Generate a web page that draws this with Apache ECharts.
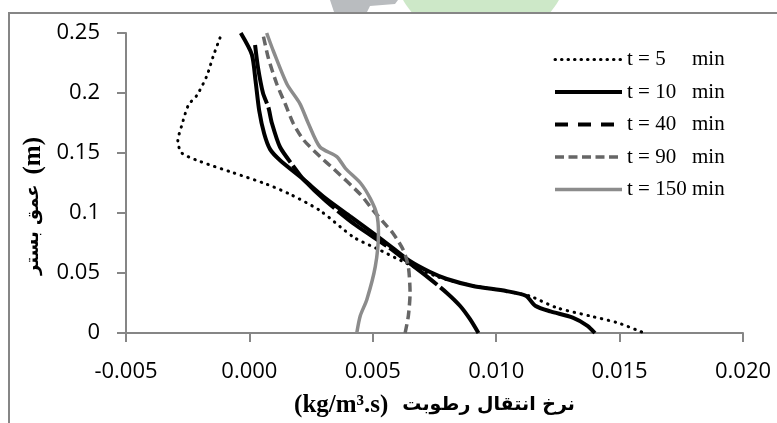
<!DOCTYPE html>
<html>
<head>
<meta charset="utf-8">
<script src="https://cdn.jsdelivr.net/npm/echarts@6/dist/echarts.min.js"></script>
<style>
  html, body { margin: 0; padding: 0; background: #fff; }
  #chart { width: 777px; height: 423px; }
</style>
</head>
<body>
<div id="chart"></div>
<script>
// [rate (kg/m3.s), depth (m)]
const t5 = [
  [-0.00119, 0.246], [-0.00146, 0.231], [-0.00173, 0.214], [-0.00213, 0.198],
  [-0.00247, 0.190], [-0.00274, 0.173], [-0.00290, 0.160], [-0.00274, 0.150],
  [-0.00200, 0.143], [-0.00065, 0.1335], [0.00070, 0.124], [0.00165, 0.1156],
  [0.00286, 0.102], [0.00421, 0.080], [0.00516, 0.0704], [0.00638, 0.058],
  [0.00759, 0.0471], [0.00854, 0.0416], [0.00960, 0.0375], [0.01050, 0.0345],
  [0.01137, 0.0307], [0.01246, 0.021], [0.01380, 0.0142], [0.01489, 0.0087],
  [0.01577, 0.0019], [0.01600, 0]
];
const t10 = [
  [-0.00035, 0.25], [0.00010, 0.232], [0.00025, 0.21], [0.00040, 0.185],
  [0.00060, 0.166], [0.00084, 0.153], [0.00124, 0.144], [0.00219, 0.128],
  [0.00310, 0.112], [0.00410, 0.097], [0.00490, 0.085], [0.00580, 0.071],
  [0.00650, 0.060], [0.00730, 0.051], [0.00800, 0.045], [0.00910, 0.039],
  [0.01040, 0.035], [0.01120, 0.031], [0.01160, 0.0225], [0.01220, 0.018],
  [0.01310, 0.0128], [0.01370, 0.006], [0.01400, 0]
];
const t40 = [
  [0.00023, 0.24], [0.00035, 0.221], [0.00055, 0.20], [0.00077, 0.188],
  [0.00091, 0.175], [0.00124, 0.155], [0.00178, 0.139], [0.00219, 0.128],
  [0.00310, 0.110], [0.00430, 0.090], [0.00560, 0.072], [0.00650, 0.058],
  [0.00720, 0.047], [0.00800, 0.0334], [0.00854, 0.0225], [0.00894, 0.0115],
  [0.00928, 0]
];
const t90 = [
  [0.00057, 0.247], [0.00077, 0.229], [0.00111, 0.2075], [0.00145, 0.191],
  [0.00178, 0.1746], [0.00219, 0.161], [0.00286, 0.147], [0.00340, 0.137],
  [0.00449, 0.1156], [0.00502, 0.102], [0.00540, 0.093], [0.00583, 0.0827],
  [0.00624, 0.069], [0.00644, 0.0553], [0.00651, 0.0334], [0.00644, 0.0142],
  [0.00631, 0]
];
const t150 = [
  [0.00070, 0.25], [0.00097, 0.235], [0.00152, 0.2075], [0.00205, 0.191],
  [0.00239, 0.1746], [0.00286, 0.155], [0.00354, 0.147], [0.00390, 0.137],
  [0.00450, 0.125], [0.00490, 0.112], [0.00516, 0.099], [0.00523, 0.083],
  [0.00510, 0.0553], [0.00476, 0.028], [0.00449, 0.0142], [0.00435, 0]
];
const seriesNames = ["t = 5 min", "t = 10 min", "t = 40 min", "t = 90 min", "t = 150 min"];

const axisGrey = "#868686";
const chart = echarts.init(document.getElementById("chart"));

function lineSeries(name, data, lineStyle) {
  return {
    name: name,
    type: "line",
    data: data,
    symbol: "none",
    showSymbol: false,
    smooth: 0.25,
    lineStyle: lineStyle,
    itemStyle: { color: lineStyle.color },
    z: 3
  };
}

chart.setOption({
  animation: false,
  backgroundColor: "#fff",
  grid: { left: 126, right: 34, top: 33, bottom: 86 },
  graphic: [
    { type: "circle", shape: { cx: 481, cy: -45, r: 90 }, style: { fill: "#cde8c8" }, z: 0 },
    { type: "polygon", shape: { points: [[330, 0], [398, 0], [395, 4], [370, 6], [367, 12], [334, 12]] },
      style: { fill: "#b9bcbf" }, z: 0 },
    { type: "rect", shape: { x: 9, y: 13, width: 1000, height: 1000 },
      style: { fill: "#fff", stroke: axisGrey, lineWidth: 2 }, z: 0 }
  ],
  legend: {
    orient: "vertical",
    left: 548,
    top: 44,
    itemWidth: 67,
    itemHeight: 14,
    itemGap: 11.5,
    itemStyle: { opacity: 0 },
    data: [
      { name: seriesNames[0], lineStyle: { width: 3, type: [0.5, 6], cap: "round" } },
      { name: seriesNames[1], lineStyle: { width: 4 } },
      { name: seriesNames[2], lineStyle: { width: 4, type: [13, 10], cap: "butt" } },
      { name: seriesNames[3], lineStyle: { width: 3.5, type: [9, 4.5] } },
      { name: seriesNames[4], lineStyle: { width: 3.5 } }
    ],
    formatter: function (name) {
      const parts = name.split(" min");
      return "{a|" + parts[0] + " }{b|min}";
    },
    textStyle: {
      color: "#000",
      fontFamily: "Liberation Serif",
      fontSize: 21,
      rich: {
        a: { width: 65, fontFamily: "Liberation Serif", fontSize: 21, color: "#000", lineHeight: 24 },
        b: { fontFamily: "Liberation Serif", fontSize: 21, color: "#000", lineHeight: 24 }
      }
    }
  },
  xAxis: {
    type: "value",
    min: -0.005,
    max: 0.02,
    interval: 0.005,
    name: "{u|(kg/m³.s)}{g|}{a|نرخ انتقال رطوبت}",
    nameLocation: "middle",
    nameGap: 60,
    nameTextStyle: {
      rich: {
        u: { fontFamily: "Liberation Serif", fontWeight: "bold", fontSize: 25, color: "#000" },
        g: { width: 14 },
        a: { fontFamily: "DejaVu Sans", fontWeight: "bold", fontSize: 19, color: "#000" }
      }
    },
    axisLine: { show: true, onZero: false, lineStyle: { color: axisGrey, width: 2 } },
    axisTick: { show: true, length: 9, lineStyle: { color: axisGrey, width: 2 } },
    splitLine: { show: false },
    axisLabel: {
      color: "#000",
      fontFamily: "Open Sans",
      fontSize: 22,
      margin: 28,
      formatter: function (v) {
        return (Math.abs(v) < 1e-12 ? 0 : v).toFixed(3);
      }
    }
  },
  yAxis: {
    type: "value",
    min: 0,
    max: 0.25,
    interval: 0.05,
    name: "{a|عمق بستر}{g|}{u|(m)}",
    nameLocation: "middle",
    nameGap: 78,
    nameTextStyle: {
      padding: [0, 46, 0, 0],
      rich: {
        u: { fontFamily: "Liberation Serif", fontWeight: "bold", fontSize: 25, color: "#000" },
        g: { width: 10 },
        a: { fontFamily: "DejaVu Sans", fontWeight: "bold", fontSize: 18, color: "#000" }
      }
    },
    axisLine: { show: true, onZero: false, lineStyle: { color: axisGrey, width: 2 } },
    axisTick: { show: true, length: 9, lineStyle: { color: axisGrey, width: 2 } },
    splitLine: { show: false },
    axisLabel: {
      color: "#000",
      fontFamily: "Open Sans",
      fontSize: 22,
      margin: 26,
      formatter: function (v) {
        return String(+v.toFixed(2));
      }
    }
  },
  series: [
    lineSeries(seriesNames[0], t5, { color: "#000", width: 3, type: [0.5, 6.5], cap: "round" }),
    lineSeries(seriesNames[1], t10, { color: "#000", width: 4 }),
    lineSeries(seriesNames[2], t40, { color: "#000", width: 4, type: [60, 4] }),
    lineSeries(seriesNames[3], t90, { color: "#666666", width: 3.5, type: [9, 5] }),
    lineSeries(seriesNames[4], t150, { color: "#8c8c8c", width: 3.5 })
  ]
});
</script>
</body>
</html>
